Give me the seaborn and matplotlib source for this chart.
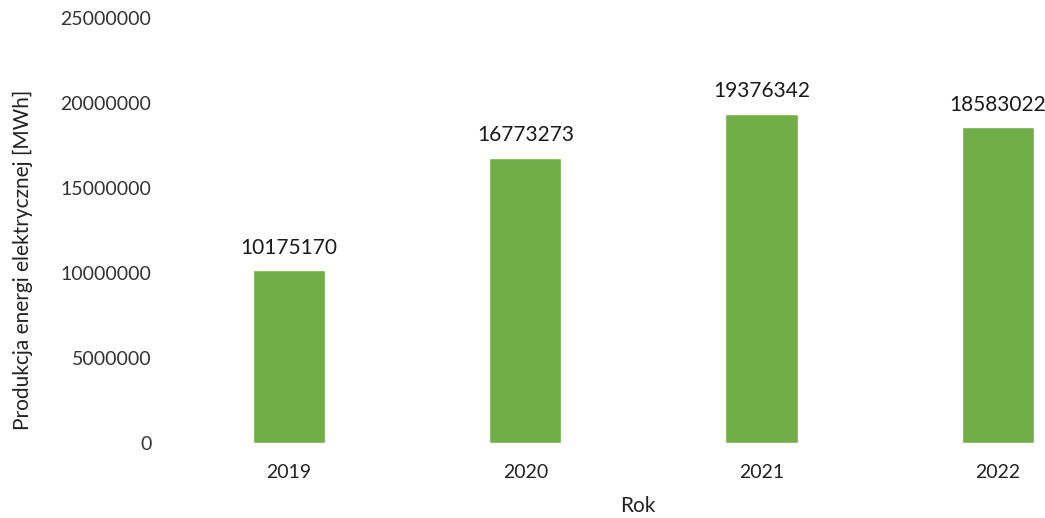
import pandas as pd
import seaborn as sns
import matplotlib.pyplot as plt

lata = ["2019", "2020", "2021", "2022"]
produkcja = [10175170, 16773273, 19376342, 18583022]

df = pd.DataFrame({"Rok": lata, "Produkcja": produkcja})

sns.set_theme(style="white")
plt.rcParams["font.family"] = ["Lato", "DejaVu Sans"]

fig = plt.figure(figsize=(10.45, 5.18), dpi=100)
ax = fig.add_axes([0.17, 0.1448, 0.83, 0.8205])

sns.barplot(data=df, x="Rok", y="Produkcja", color="#70AD47", saturation=1,
            width=0.306, ax=ax)

# etykiety nad slupkami
for p, val in zip(ax.patches, produkcja):
    ax.annotate(str(val), (p.get_x() + p.get_width() / 2, p.get_height()),
                xytext=(0, 9), textcoords="offset points",
                ha="center", va="bottom", fontsize=15, color="#1a1a1a")

ax.set_ylim(0, 25000000)
ax.set_xlim(-0.472, 3.2)
ax.set_yticks(range(0, 25000001, 5000000))
ax.set_yticklabels([str(v) for v in range(0, 25000001, 5000000)])
ax.tick_params(axis="y", length=0, pad=19, labelsize=14, labelcolor="#333333")
ax.tick_params(axis="x", length=0, pad=15, labelsize=14, labelcolor="#222222")
sns.despine(ax=ax, left=True, bottom=True)

ax.set_xlabel("Rok", fontsize=15, color="#222222")
ax.set_ylabel("Produkcja energi elektrycznej [MWh]", fontsize=15, color="#222222")
ax.xaxis.set_label_coords(0.53, -0.125)
ax.yaxis.set_label_coords(-0.167, 0.43)

fig.savefig("out.png", dpi=100)
